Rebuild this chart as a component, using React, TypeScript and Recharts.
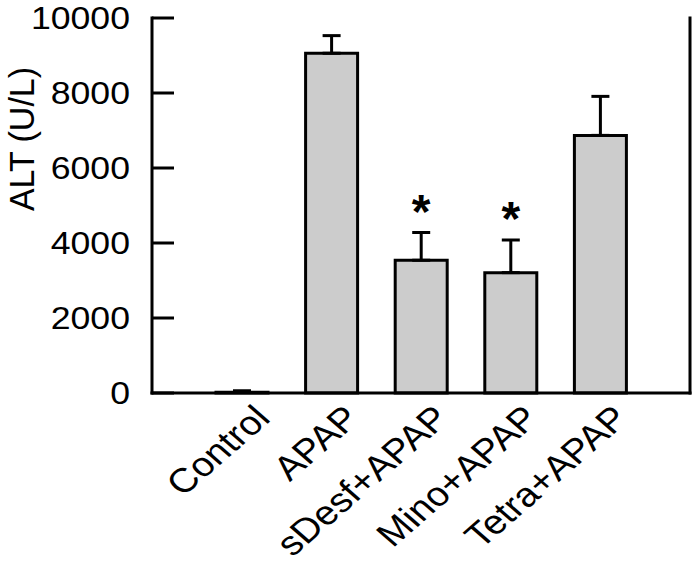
import { BarChart, Bar, XAxis, YAxis, ErrorBar, LabelList } from 'recharts'

const groups = ['Control', 'APAP', 'sDesf+APAP', 'Mino+APAP', 'Tetra+APAP']
const altMeans = [20, 9060, 3540, 3210, 6870]
const altErrors = [40, 470, 740, 870, 1040]
const signif = ['', '', '*', '*', '']
const yTicks = [0, 2000, 4000, 6000, 8000, 10000]

const data = groups.map((name, i) => ({
  name,
  alt: altMeans[i],
  err: [0, altErrors[i]],
  sig: signif[i],
}))

// the source figure is a bit wider than tall, so text is stretched sideways
const STRETCH = 1.15
const TICK_LEN = 22
const axisStroke = { stroke: '#000', strokeWidth: 3, strokeLinecap: 'square' as const }

function GroupTick({ x, y, payload }: any) {
  return (
    <text
      transform={`translate(${x + 30},${y + 19}) scale(${STRETCH},1) rotate(-45)`}
      textAnchor="end"
      fontSize={34}
      fill="#000"
    >
      {payload.value}
    </text>
  )
}

// label sits TICK_LEN left of the axis, tick mark points inward
function LeftTick({ x, y, payload }: any) {
  return (
    <g>
      <line x1={x + TICK_LEN} x2={x + 2 * TICK_LEN} y1={y} y2={y} stroke="#000" strokeWidth={3} />
      <text transform={`translate(${x},${y}) scale(${STRETCH},1)`} textAnchor="end" dy="0.355em" fontSize={31} fill="#000">
        {payload.value}
      </text>
    </g>
  )
}

function RightTick({ x, y }: any) {
  return <line x1={x - TICK_LEN} x2={x} y1={y} y2={y} stroke="#000" strokeWidth={3} />
}

function StarLabel(props: any) {
  const { x, y, width, height, value, index } = props
  if (!value) return null
  const errPx = (Math.abs(height) * altErrors[index]) / altMeans[index]
  return (
    <text x={x + width / 2} y={y - errPx - 5} textAnchor="middle" fontSize={48} fontWeight="bold" fill="#000">
      {value}
    </text>
  )
}

export default function App() {
  return (
    <div style={{ position: 'absolute', left: 0, top: 0, fontFamily: '"Liberation Sans", Arial, sans-serif' }}>
      <BarChart width={697} height={566} data={data} margin={{ top: 18, right: 0, bottom: 0, left: 0 }}>
        <XAxis
          dataKey="name"
          height={173}
          padding={{ left: 45, right: 45 }}
          tickLine={false}
          axisLine={axisStroke}
          tick={<GroupTick />}
          interval={0}
        />
        <XAxis
          xAxisId="top"
          orientation="top"
          dataKey="name"
          height={0}
          padding={{ left: 45, right: 45 }}
          tick={false}
          tickLine={false}
          axisLine={axisStroke}
        />
        <YAxis
          width={152}
          domain={[0, 10000]}
          ticks={yTicks}
          tickSize={0}
          tickMargin={TICK_LEN}
          axisLine={axisStroke}
          tickLine={false}
          tick={<LeftTick />}
          label={{
            content: () => (
              <text
                transform="translate(34,139) scale(1.05,1) rotate(-90)"
                textAnchor="middle"
                fontSize={34}
                fill="#000"
              >
                ALT (U/L)
              </text>
            ),
          }}
        />
        <YAxis
          yAxisId="right"
          orientation="right"
          width={7}
          domain={[0, 10000]}
          ticks={yTicks}
          tickSize={0}
          tickMargin={0}
          axisLine={axisStroke}
          tickLine={false}
          tick={<RightTick />}
        />
        <Bar dataKey="alt" fill="#cccccc" stroke="#000" strokeWidth={3} barSize={52} isAnimationActive={false}>
          <ErrorBar dataKey="err" width={9} stroke="#000" strokeWidth={3} direction="y" />
          <LabelList dataKey="sig" content={<StarLabel />} />
        </Bar>
      </BarChart>
    </div>
  )
}
